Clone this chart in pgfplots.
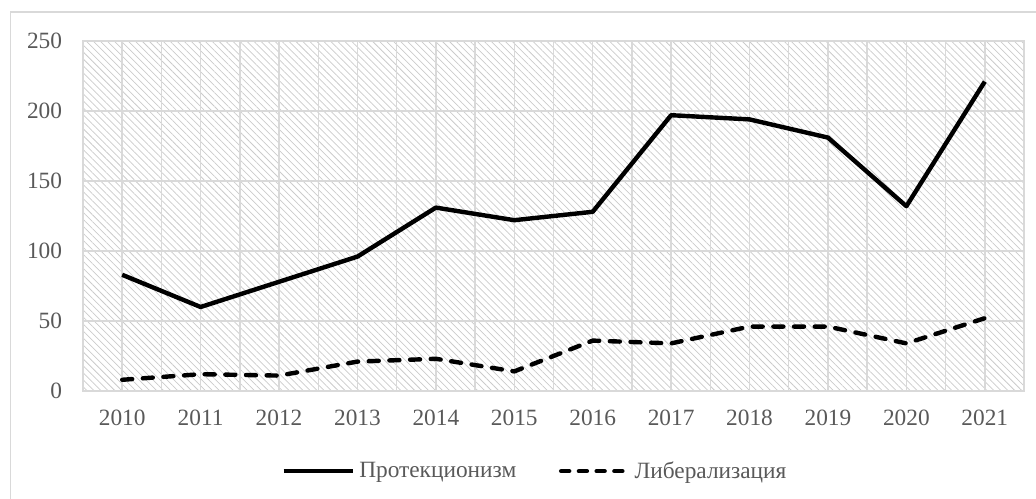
\documentclass[border=0pt]{standalone}
\usepackage{fontspec}
\setmainfont{Liberation Serif}
\usepackage{pgfplots}
\pgfplotsset{compat=1.18}
\usetikzlibrary{patterns.meta}
\definecolor{txt}{HTML}{595959}
\definecolor{grd}{HTML}{D9D9D9}
\definecolor{hatch}{HTML}{CBCBCB}

\begin{document}
\begin{tikzpicture}
% page frame: 1036x499 px at 0.75pt per px
\path[use as bounding box] (-62.25pt,-81pt) rectangle (714.75pt,293.25pt);
\draw[grd, line width=0.8pt] (-54.4pt,-81pt) -- (-54.4pt,284.25pt) -- (714.75pt,284.25pt);
\begin{axis}[
    at={(0pt,0pt)}, anchor=south west,
    scale only axis,
    width=705.75pt, height=262.5pt,
    xmin=-0.5, xmax=11.5,
    ymin=0, ymax=250,
    xtick={0,1,2,3,4,5,6,7,8,9,10,11},
    xticklabels={2010,2011,2012,2013,2014,2015,2016,2017,2018,2019,2020,2021},
    minor xtick={-0.5,0.5,1.5,2.5,3.5,4.5,5.5,6.5,7.5,8.5,9.5,10.5,11.5},
    ytick={0,50,100,150,200,250},
    grid=both,
    major grid style={grd, line width=1.1pt},
    minor grid style={grd, line width=1.1pt},
    axis line style={grd, line width=1.1pt},
    major tick length=0pt, minor tick length=0pt,
    tick label style={text=txt, font=\fontsize{17.5}{21}\selectfont},
    /pgf/number format/assume math mode=true,
    yticklabel style={inner sep=0pt, xshift=-15.5pt},
    xticklabel style={inner sep=0pt, yshift=-14pt},
    axis background/.style={pattern={Lines[angle=-45,distance=3.7pt,line width=0.55pt]}, pattern color=hatch},
    legend style={at={(0.4814,-0.229)}, anchor=center, draw=none, fill=none,
        legend columns=2, text=txt, font=\fontsize{17.5}{21}\selectfont,
        nodes={inner xsep=3pt},
        /tikz/every even column/.append style={column sep=29pt}},
    legend image code/.code={\draw[#1] (0pt,0pt) -- (52pt,0pt);},
]

% Протекционизм
\addplot[black, line width=3.3pt, line join=round] coordinates {
    (0,83) (1,60) (2,78) (3,96) (4,131) (5,122) (6,128) (7,197) (8,194) (9,181) (10,132) (11,221)
};

% Либерализация
\addplot[black, line width=3.3pt, line cap=round, line join=round, dash pattern=on 7.5pt off 8pt,
    legend image code/.code={\draw[black, line width=3.3pt, line cap=round, dash pattern=on 6pt off 7.3pt] (1.6pt,0pt) -- (52pt,0pt);}] coordinates {
    (0,8) (1,12) (2,11) (3,21) (4,23) (5,14) (6,36) (7,34) (8,46) (9,46) (10,34) (11,52)
};

\legend{Протекционизм, Либерализация}
\end{axis}
\end{tikzpicture}
\end{document}
